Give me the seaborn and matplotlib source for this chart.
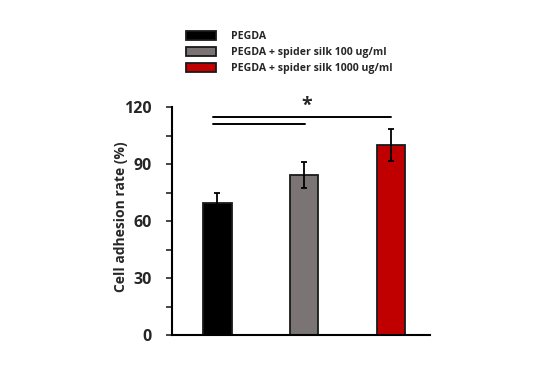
import matplotlib
matplotlib.use('Agg')
import matplotlib.pyplot as plt
import seaborn as sns
from matplotlib.ticker import MultipleLocator

groups = ['PEGDA', 'PEGDA + spider silk 100 ug/ml', 'PEGDA + spider silk 1000 ug/ml']
adhesion = [69.3, 84.2, 100.0]
errors = [5.6, 7.0, 8.3]
colors = ['#000000', '#7a7474', '#c00000']
sig_y = [114.6, 111.0]

sns.set_style('white')
plt.rcParams['font.family'] = ['Open Sans', 'DejaVu Sans']

fig = plt.figure(figsize=(5.5, 3.8), dpi=100)
ax = fig.add_axes([172/550, 45/380, 258/550, 228/380])

sns.barplot(x=groups, y=adhesion, hue=groups, palette=colors, legend=False,
            saturation=1, width=0.33, edgecolor='#1a1a1a', linewidth=1.3, ax=ax)
ax.errorbar(range(len(groups)), adhesion, yerr=errors, fmt='none',
            ecolor='black', elinewidth=1.3, capsize=2.5, capthick=1.3, zorder=5)

ax.set_xlim(-0.52, 2.45)
ax.set_ylim(0, 120)
ax.yaxis.set_major_locator(MultipleLocator(30))
ax.yaxis.set_minor_locator(MultipleLocator(15))
ax.tick_params(axis='y', which='both', direction='out', length=4.5, width=1.2,
               left=True, labelsize=11.5, pad=10)
ax.tick_params(axis='x', bottom=False, labelbottom=False)
for lbl in ax.get_yticklabels():
    lbl.set_fontweight('bold')
ax.set_ylabel('Cell adhesion rate (%)', fontsize=10, fontweight='bold')
ax.yaxis.set_label_coords(-0.17, 0.52)
ax.set_xlabel('')
sns.despine(ax=ax)
for s in ['left', 'bottom']:
    ax.spines[s].set_linewidth(1.5)
    ax.spines[s].set_color('black')

# significance brackets
ax.plot([-0.05, 2.0], [sig_y[0], sig_y[0]], color='black', lw=1.4, clip_on=False)
ax.plot([-0.05, 1.01], [sig_y[1], sig_y[1]], color='black', lw=1.4, clip_on=False)
ax.text(1.03, 115.5, '*', ha='center', va='bottom', fontsize=14, fontweight='bold')

fig.legend(handles=ax.patches[:3], labels=groups, loc='upper left',
           bbox_to_anchor=(186/550, 1 - 31/380), frameon=False,
           prop={'size': 7.6, 'weight': 'bold'}, handlelength=2.8, handleheight=1.0,
           handletextpad=1.5, labelspacing=0.42, borderpad=0, borderaxespad=0)

fig.savefig('out.png', dpi=100)
